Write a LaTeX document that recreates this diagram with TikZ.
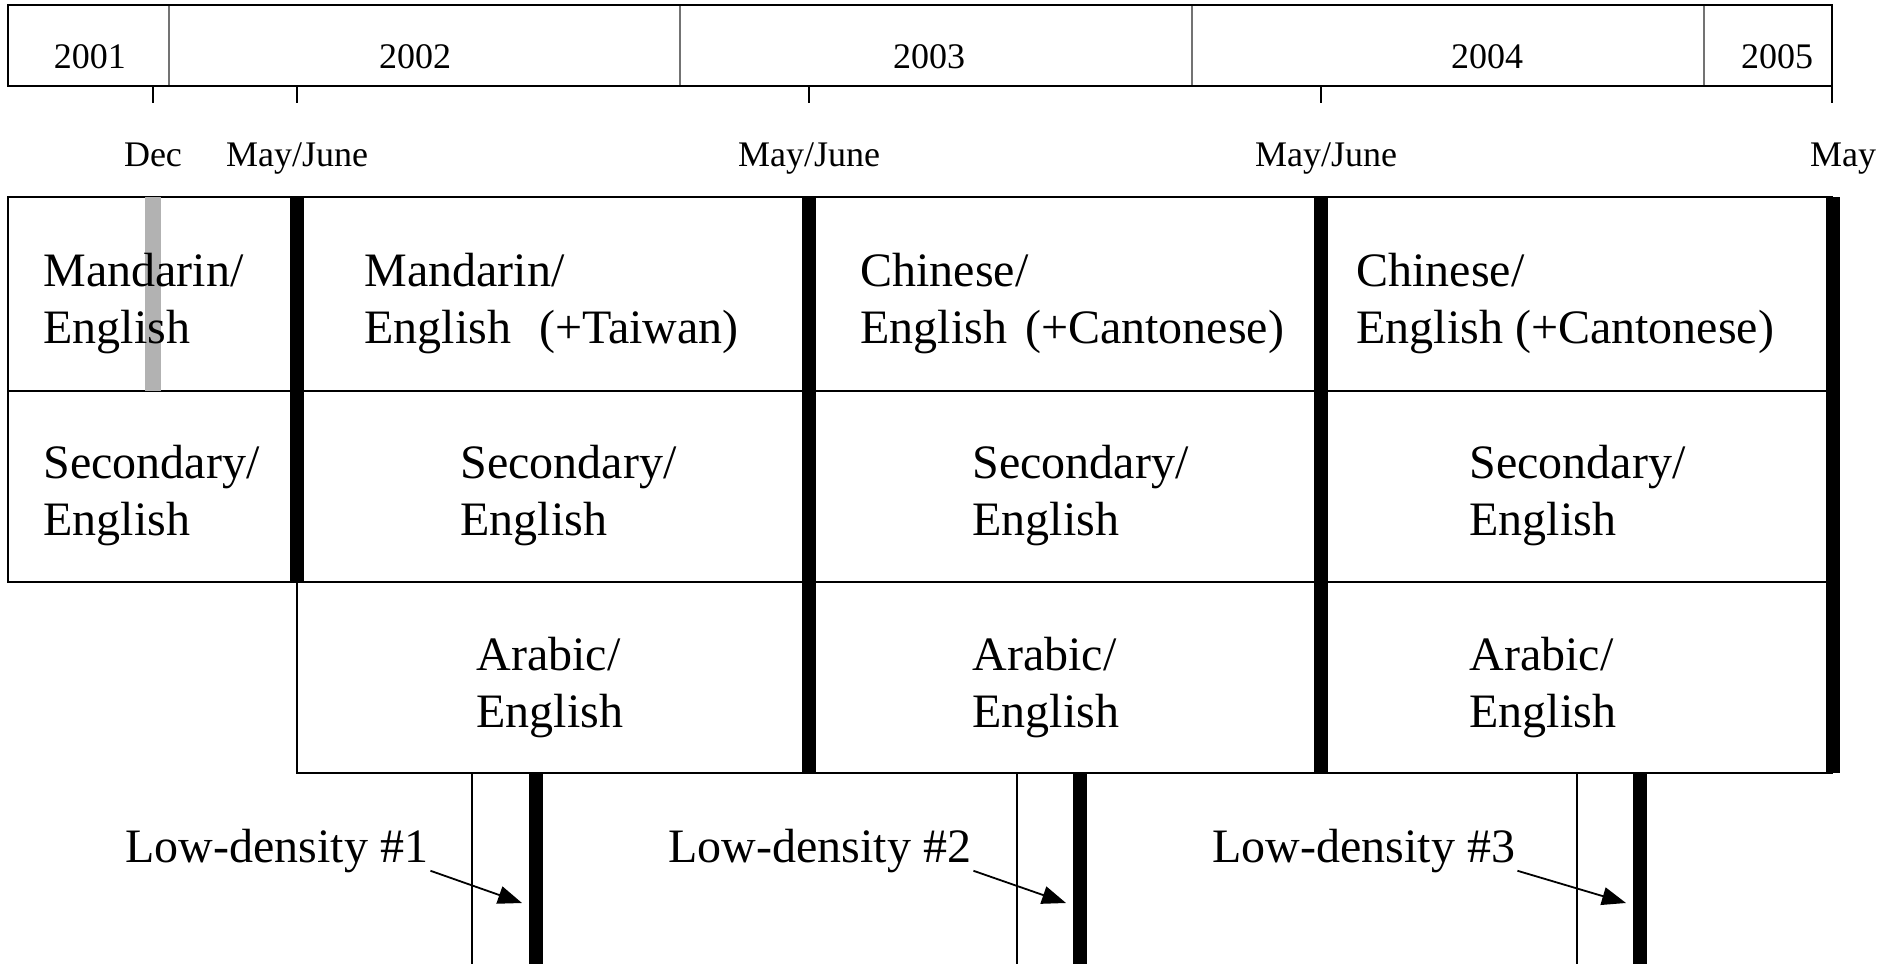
\documentclass[tikz,border=0pt]{standalone}
\usepackage{fontspec}
\setmainfont{Liberation Serif}
\usetikzlibrary{arrows.meta}
\newcommand{\celltext}[1]{\parbox[t]{300pt}{\fontsize{24}{28.5}\selectfont #1}}
\tikzset{
  frame/.style={line width=1pt, black},
  divider/.style={line width=0.6pt, black!55},
  tick/.style={line width=0.8pt, black},
  thickbar/.style={line width=7pt, black},
  graybar/.style={line width=8pt, black!30},
  guide/.style={line width=0.6pt, black},
  year/.style={anchor=base, inner sep=0pt, font=\fontsize{18}{21}\selectfont},
  month/.style={anchor=base, inner sep=0pt, font=\fontsize{18}{21}\selectfont},
  cell/.style={anchor=base west, inner sep=0pt},
  ldlabel/.style={anchor=base west, inner sep=0pt, font=\fontsize{24}{28.5}\selectfont},
  pointer/.style={line width=0.9pt, -{Triangle[length=12pt,width=9pt]}}
}
\begin{document}
\begin{tikzpicture}[x=0.5pt,y=-0.5pt]
\useasboundingbox (0,0) rectangle (1902,964);
% ---------- year bar ----------
\draw[divider] (169,5) -- (169,86) (680,5) -- (680,86) (1192,5) -- (1192,86) (1704,5) -- (1704,86);
\draw[frame] (8,5) rectangle (1832,86);
\node[year] (y2001) at (90,68) {2001};
\node[year] (y2002) at (415,68) {2002};
\node[year] (y2003) at (929,68) {2003};
\node[year] (y2004) at (1487,68) {2004};
\node[year] (y2005) at (1777,68) {2005};
% ticks
\draw[tick] (153,86) -- (153,103) (297,86) -- (297,103) (809,86) -- (809,103) (1321,86) -- (1321,103) (1832,86) -- (1832,103);
% month labels
\node[month] (mdec) at (153,166) {Dec};
\node[month] (m1) at (297,166) {May/June};
\node[month] (m2) at (809,166) {May/June};
\node[month] (m3) at (1326,166) {May/June};
\node[month] (m4) at (1843,166) {May};
% ---------- table ----------
% left block
\draw[frame] (8,197) rectangle (297,582);
\draw[frame] (8,391) -- (297,391);
% main blocks
\draw[frame] (297,197) rectangle (1832,773);
\draw[frame] (297,391) -- (1832,391) (297,582) -- (1832,582);
% gray bar
\draw[graybar] (153,197) -- (153,391);
% thick bars
\draw[thickbar] (297,197) -- (297,582);
\draw[thickbar] (809,197) -- (809,773);
\draw[thickbar] (1321,197) -- (1321,773);
\draw[thickbar] (1833,197) -- (1833,773);
% cell texts
\node[cell] (c11) at (43,286) {\celltext{Mandarin/\\English}};
\node[cell] (c12) at (364,286) {\celltext{Mandarin/\\English\hspace{14pt}(+Taiwan)}};
\node[cell] (c13) at (860,286) {\celltext{Chinese/\\English\hspace{9pt}(+Cantonese)}};
\node[cell] (c14) at (1356,286) {\celltext{Chinese/\\English (+Cantonese)}};
\node[cell] (c21) at (43,478) {\celltext{Secondary/\\English}};
\node[cell] (c22) at (460,478) {\celltext{Secondary/\\English}};
\node[cell] (c23) at (972,478) {\celltext{Secondary/\\English}};
\node[cell] (c24) at (1469,478) {\celltext{Secondary/\\English}};
\node[cell] (c32) at (476,670) {\celltext{Arabic/\\English}};
\node[cell] (c33) at (972,670) {\celltext{Arabic/\\English}};
\node[cell] (c34) at (1469,670) {\celltext{Arabic/\\English}};
% ---------- low-density markers ----------
\draw[guide] (472,773) -- (472,964) (1017,773) -- (1017,964) (1577,773) -- (1577,964);
\draw[thickbar] (536,773) -- (536,964);
\draw[thickbar] (1080,773) -- (1080,964);
\draw[thickbar] (1640,773) -- (1640,964);
\node[ldlabel] (ld1) at (125,862) {Low-density \#1};
\node[ldlabel] (ld2) at (668,862) {Low-density \#2};
\node[ldlabel] (ld3) at (1212,862) {Low-density \#3};
\coordinate (t1) at (522,903);
\coordinate (t2) at (1066,903);
\coordinate (t3) at (1626,903);
\draw[pointer] ([xshift=1pt,yshift=1pt]ld1.south east) -- (t1);
\draw[pointer] ([xshift=1pt,yshift=1pt]ld2.south east) -- (t2);
\draw[pointer] ([xshift=1pt,yshift=1pt]ld3.south east) -- (t3);
\end{tikzpicture}
\end{document}
